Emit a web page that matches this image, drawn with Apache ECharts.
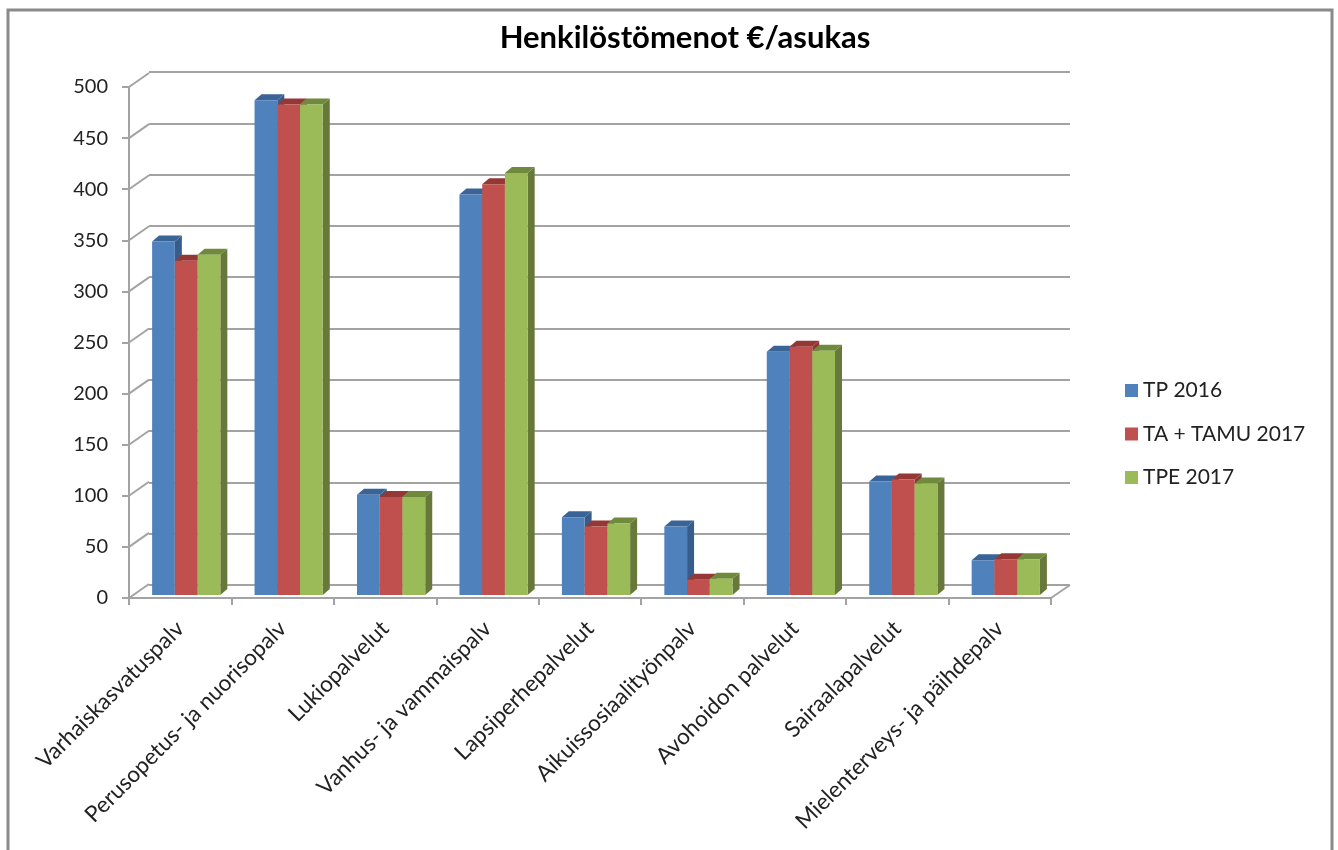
<!DOCTYPE html>
<html>
<head>
<meta charset="utf-8">
<title>Henkilöstömenot €/asukas</title>
<script src="https://cdn.jsdelivr.net/npm/echarts@6/dist/echarts.min.js"></script>
<style>
  html, body { margin: 0; padding: 0; background: #fff; }
  #chart-container { width: 1338px; height: 850px; }
</style>
</head>
<body>
<div id="chart-container"></div>
<script>
const categories = ['Varhaiskasvatuspalv', 'Perusopetus- ja nuorisopalv', 'Lukiopalvelut', 'Vanhus- ja vammaispalv', 'Lapsiperhepalvelut', 'Aikuissosiaalityönpalv', 'Avohoidon palvelut', 'Sairaalapalvelut', 'Mielenterveys- ja päihdepalv'];
const tp2016 = [346, 484, 98, 392, 76, 67, 238, 111, 34];
const taTamu2017 = [327, 480, 96, 402, 67, 15, 243, 113, 35];
const tpe2017 = [333, 480, 96, 413, 70, 16, 239, 109, 35];
const yTicks = [0, 50, 100, 150, 200, 250, 300, 350, 400, 450, 500];

const font = 'Lato, "Open Sans", sans-serif';
const gridColor = '#a3a3a3';

// fake 3D: bars sit a bit inside the floor, depth goes up and to the right
const barFrac = 0.222;
const barShiftX = 6, barShiftY = -3;
const depthX = 7, depthY = -6;

function barSeries(name, values, idx, front, side, top) {
  return {
    name: name,
    type: 'custom',
    xAxisIndex: 0,
    yAxisIndex: 0,
    z: 5,
    clip: false,
    itemStyle: { color: front },
    encode: { x: 0, y: 1 },
    data: values.map((v, i) => [i, v]),
    renderItem: (params, api) => {
      const base = api.coord([api.value(0), 0]);
      const tip = api.coord([api.value(0), api.value(1)]);
      const w = api.size([1, 0])[0] * barFrac;
      const x0 = base[0] + barShiftX + (idx - 1.5) * w;
      const x1 = x0 + w;
      const y0 = base[1] + barShiftY;
      const y1 = tip[1] + barShiftY;
      return {
        type: 'group',
        children: [
          { type: 'polygon', shape: { points: [[x1, y0], [x1 + depthX, y0 + depthY], [x1 + depthX, y1 + depthY], [x1, y1]] }, style: { fill: side } },
          { type: 'polygon', shape: { points: [[x0, y1], [x0 + depthX, y1 + depthY], [x1 + depthX, y1 + depthY], [x1, y1]] }, style: { fill: top } },
          { type: 'rect', shape: { x: x0, y: y1, width: w, height: y0 - y1 }, style: { fill: front } }
        ]
      };
    }
  };
}

const myChart = echarts.init(document.getElementById('chart-container'));
myChart.setOption({
  animation: false,
  backgroundColor: '#fff',
  title: {
    text: 'Henkilöstömenot €/asukas',
    left: 680,
    top: 17,
    textAlign: 'center',
    textStyle: { fontFamily: font, fontSize: 31, fontWeight: 'bold', color: '#000' }
  },
  legend: {
    orient: 'vertical',
    left: 1120,
    top: 375,
    itemWidth: 13,
    itemHeight: 13,
    itemGap: 22.5,
    icon: 'rect',
    data: ['TP 2016', 'TA + TAMU 2017', 'TPE 2017'],
    textStyle: { fontFamily: font, fontSize: 21, color: '#222' }
  },
  grid: [
    { left: 129, top: 87, width: 922, height: 511 },
    // back wall
    { left: 149, top: 72, width: 921, height: 513 }
  ],
  xAxis: [
    {
      type: 'category',
      gridIndex: 0,
      data: categories,
      axisLine: { lineStyle: { color: gridColor, width: 2 } },
      axisTick: { show: true, length: 7, lineStyle: { color: gridColor, width: 2 } },
      axisLabel: { rotate: 45, interval: 0, margin: 27, fontFamily: font, fontSize: 22.5, color: '#222' }
    },
    {
      type: 'category',
      gridIndex: 1,
      data: categories,
      axisLine: { show: false },
      axisTick: { show: false },
      axisLabel: { show: false }
    }
  ],
  yAxis: [
    {
      type: 'value',
      gridIndex: 0,
      min: 0,
      max: 500,
      interval: 50,
      axisLine: { show: true, lineStyle: { color: gridColor, width: 2 } },
      axisTick: { show: true, length: 7, lineStyle: { color: gridColor, width: 2 } },
      splitLine: { show: false },
      axisLabel: { margin: 21, padding: [3, 0, 0, 0], fontFamily: font, fontSize: 20, color: '#222' }
    },
    {
      type: 'value',
      gridIndex: 1,
      min: 0,
      max: 500,
      interval: 50,
      axisLine: { show: false },
      axisTick: { show: false },
      axisLabel: { show: false },
      splitLine: { show: true, lineStyle: { color: gridColor, width: 2 } }
    }
  ],
  series: [
    {
      // diagonals joining the value axis to the back wall, plus the right edge of the floor
      type: 'custom',
      xAxisIndex: 0,
      yAxisIndex: 0,
      z: 1,
      clip: false,
      silent: true,
      encode: { y: 0 },
      data: yTicks.map(v => [v]),
      renderItem: (params, api) => {
        const y = api.coord([0, api.value(0)])[1];
        const left = params.coordSys.x;
        const right = left + params.coordSys.width;
        const lineStyle = { stroke: gridColor, lineWidth: 2, fill: null };
        const children = [
          { type: 'line', shape: { x1: left, y1: y, x2: left + 20, y2: y - 14 }, style: lineStyle }
        ];
        if (api.value(0) === 0) {
          children.push({ type: 'line', shape: { x1: right, y1: y, x2: right + 19, y2: y - 13 }, style: lineStyle });
        }
        return { type: 'group', children: children };
      }
    },
    barSeries('TP 2016', tp2016, 0, '#4f81bd', '#385d8a', '#3a6396'),
    barSeries('TA + TAMU 2017', taTamu2017, 1, '#c0504d', '#8c3836', '#953735'),
    barSeries('TPE 2017', tpe2017, 2, '#9bbb59', '#66793a', '#6f8a3c')
  ],
  graphic: [
    {
      // picture frame, the bottom edge runs off the page
      type: 'rect',
      silent: true,
      shape: { x: 8, y: 10, width: 1324, height: 860 },
      style: { fill: null, stroke: '#8a8a8a', lineWidth: 3 }
    }
  ]
});
</script>
</body>
</html>
